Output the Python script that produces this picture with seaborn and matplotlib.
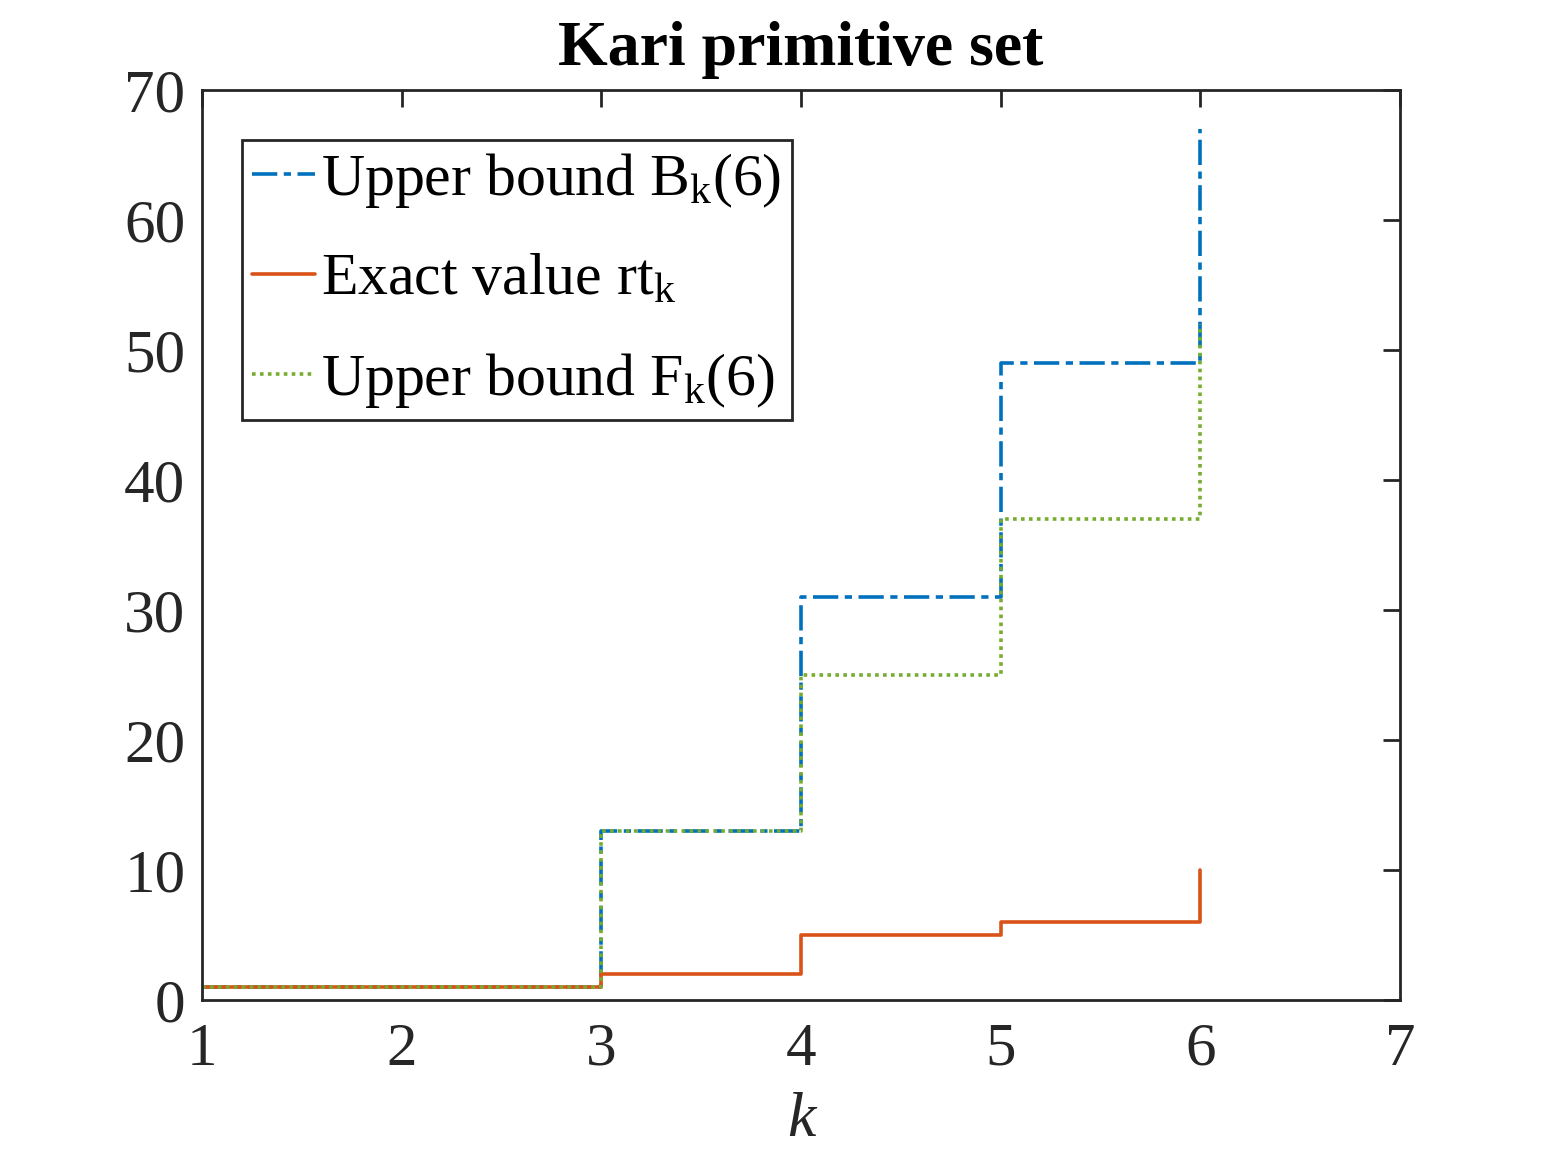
import numpy as np
import pandas as pd
import seaborn as sns
import matplotlib.pyplot as plt

k = [1, 2, 3, 4, 5, 6]
upper_b = [1, 1, 13, 31, 49, 67]
exact_rt = [1, 1, 2, 5, 6, 10]
upper_f = [1, 1, 13, 25, 37, 52]

x_ticks = [1, 2, 3, 4, 5, 6, 7]
y_ticks = [0, 10, 20, 30, 40, 50, 60, 70]

sns.set_theme(style="white")
plt.rcParams['font.family'] = ['Liberation Serif', 'DejaVu Serif']
plt.rcParams['mathtext.fontset'] = 'custom'
plt.rcParams['mathtext.rm'] = 'Liberation Serif'
plt.rcParams['mathtext.it'] = 'Liberation Serif:italic'

df = pd.DataFrame({"k": k, "B": upper_b, "rt": exact_rt, "F": upper_f})

fig = plt.figure(figsize=(15.48, 11.64), dpi=100)
ax = fig.add_axes([0.1305, 0.1409, 0.7739, 0.7818])

lw = 2.6
sns.lineplot(data=df, x="k", y="B", ax=ax, color="#0072BD", linewidth=lw,
             drawstyle="steps-post", sort=False, label=r"Upper bound B$_\mathrm{k}$(6)",
             linestyle=(0, (7, 1.8, 2, 1.8)))
sns.lineplot(data=df, x="k", y="rt", ax=ax, color="#D95319", linewidth=lw,
             drawstyle="steps-post", sort=False, label=r"Exact value rt$_\mathrm{k}$")
sns.lineplot(data=df, x="k", y="F", ax=ax, color="#77AC30", linewidth=lw,
             drawstyle="steps-post", sort=False, label=r"Upper bound F$_\mathrm{k}$(6)",
             linestyle=(0, (1, 1.2)))

ax.set_xlim(1, 7)
ax.set_ylim(0, 70)
ax.set_xticks(x_ticks)
ax.set_yticks(y_ticks)
ax.tick_params(direction="in", length=12, width=2, top=True, right=True,
               labelsize=44, colors="#262626")
ax.tick_params(axis="x", pad=16)
ax.tick_params(axis="y", pad=12)
for s in ax.spines.values():
    s.set_linewidth(2)
    s.set_color("#262626")

ax.set_xlabel("k", fontsize=46, style="italic", labelpad=10, color="#262626")
ax.set_ylabel("")
ax.set_title("Kari primitive set", fontsize=46, fontweight="bold", pad=18, color="black")

leg = ax.legend(loc="upper left", bbox_to_anchor=(0.033, 0.945), fontsize=43,
                frameon=True, fancybox=False, framealpha=1, edgecolor="#262626",
                handlelength=1.05, handletextpad=0.1, borderpad=0.18,
                labelspacing=0.72, borderaxespad=0)
leg.get_frame().set_linewidth(2)
for t in leg.get_texts():
    t.set_color("black")

fig.savefig("out.png", dpi=100)
